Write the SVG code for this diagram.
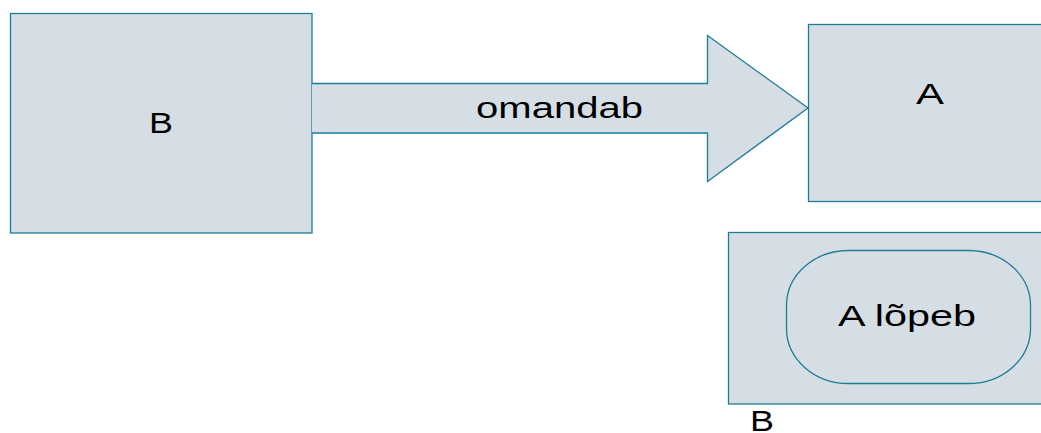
<svg xmlns="http://www.w3.org/2000/svg" width="1041" height="433" viewBox="0 0 1041 433">
<style>
.box{fill:#d6dee5;stroke:#1f7c96;stroke-width:1.3}
.t{font-family:"Liberation Sans",Arial,sans-serif;font-size:30px;fill:#000}
</style>
<rect width="1041" height="433" fill="#fff"/>
<g id="nodeB">
<rect class="box" x="10.5" y="13.5" width="301.5" height="219.5"/>
<text class="t" x="149" y="133" textLength="24" lengthAdjust="spacingAndGlyphs">B</text>
</g>
<g id="connectors">
<path class="box" d="M312 83.5 H707.5 V35.5 L808 108 L707.5 181.5 V133 H312"/>
<text class="t" x="476" y="118" textLength="167" lengthAdjust="spacingAndGlyphs">omandab</text>
</g>
<g id="nodeA">
<rect class="box" x="808.5" y="24.5" width="240" height="177"/>
<text class="t" x="916" y="104" textLength="28" lengthAdjust="spacingAndGlyphs">A</text>
</g>
<g id="nodeBlower">
<rect class="box" x="728.5" y="232.5" width="320" height="171.5"/>
<rect class="box" x="786.5" y="250.5" width="244" height="133" rx="62" ry="55"/>
<text class="t" x="838" y="326" textLength="138" lengthAdjust="spacingAndGlyphs">A lõpeb</text>
<text class="t" x="750" y="431" textLength="24" lengthAdjust="spacingAndGlyphs">B</text>
</g>
</svg>
